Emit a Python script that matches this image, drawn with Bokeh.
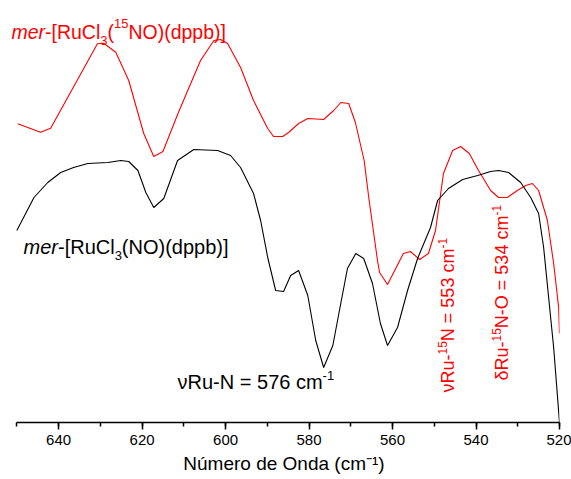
import math
from bokeh.plotting import figure
from bokeh.models import Range1d, SingleIntervalTicker, Label
from bokeh.embed import file_html
from bokeh.resources import INLINE

# ---- data (wavenumber cm^-1, relative transmittance, arbitrary units) ----
red_wn = [649.8, 644.3, 641.9, 630.7, 629.2, 626.3, 623.2, 619.6, 617.2, 615.0,
          611.4, 606.0, 602.8, 601.2, 599.5, 596.4, 593.3, 589.9, 588.5, 586.3,
          584.9, 582.5, 580.3, 576.5, 574.1, 572.4, 570.5, 568.9, 566.8, 565.6,
          563.6, 563.1, 561.2, 557.4, 555.7, 553.5, 551.4, 549.7, 547.8, 545.6,
          543.7, 541.6, 539.4, 536.5, 534.6, 532.5, 530.1, 528.1, 526.5, 525.0,
          522.9, 521.4, 520.2, 520.0]
red_t = [298.7, 290.3, 294.3, 378.7, 379.3, 370.3, 342, 289, 266, 271,
         309, 362, 382, 383, 379, 355, 322, 294, 286, 286,
         290, 299, 304, 303, 312, 320, 319, 300, 262, 222,
         162, 150, 138, 169, 171, 163, 169, 192, 249, 272,
         276, 269, 252, 232, 225, 225, 232, 237, 239, 232,
         202, 159, 115, 89]

black_wn = [650.0, 645.9, 642.6, 639.5, 636.4, 633.0, 628.2, 625.1, 623.2, 621.0,
            619.1, 617.2, 614.8, 611.5, 607.6, 601.9, 598.8, 596.4, 593.3, 591.6,
            589.9, 588.0, 586.1, 584.4, 582.5, 580.3, 578.4, 576.5, 574.3, 572.4,
            570.8, 568.8, 566.9, 564.8, 562.9, 561.2, 558.8, 556.4, 554.0, 550.9,
            549.2, 546.6, 543.2, 539.6, 536.5, 534.6, 532.2, 529.3, 526.9, 525.0,
            523.8, 522.6, 521.4, 520.0]
black_t = [192, 225, 240, 250, 255, 259, 260, 262, 261, 252,
           230, 215, 224, 262, 273, 272, 267, 255, 229, 202,
           165, 132, 131, 147, 152, 127, 82, 55, 77, 119,
           154, 169, 164, 139, 99, 77, 95, 132, 164, 195,
           222, 234, 243, 247, 251, 252, 250, 240, 225, 209,
           175, 125, 75, 0]

axis_start, axis_end = 650, 520
tick_interval = 20
x_title = "Número de Onda (cm⁻¹)"

FONT = "Liberation Sans"
RED = "#ff0000"

# Arial / Liberation Sans advance widths (per 1000 em)
W = {' ': 278, '(': 333, ')': 333, '-': 333, '=': 584, '[': 278, ']': 278,
     'C': 722, 'N': 722, 'O': 778, 'R': 722, 'b': 556, 'c': 500, 'd': 556,
     'e': 556, 'l': 222, 'm': 833, 'p': 556, 'r': 333, 'u': 556,
     'ν': 500, 'δ': 556}
for dch in "0123456789":
    W[dch] = 556


def text_width(s, size):
    return sum(W.get(ch, 556) for ch in s) * size / 1000.0


def place(p, x, y, parts, color, angle=0.0):
    cum = 0.0
    ca, sa = math.cos(angle), math.sin(angle)
    for txt, size, rise, italic in parts:
        r = rise + 0.35 * size  # baseline correction
        dx = cum * ca - r * sa
        dy = cum * sa + r * ca
        p.add_layout(Label(x=x, y=y, x_offset=dx, y_offset=dy, angle=angle,
                           text=txt, text_font=FONT, text_font_size=f"{size}px",
                           text_font_style="italic" if italic else "normal",
                           text_color=color, text_align="left",
                           text_baseline="alphabetic", text_line_height=1.0))
        cum += text_width(txt, size)


p = figure(width=571, height=479, output_backend="svg", toolbar_location=None,
           x_range=Range1d(652, 520), y_range=Range1d(0, 422),
           y_axis_location=None, min_border_left=8, min_border_right=12,
           min_border_top=0, min_border_bottom=57)
p.outline_line_color = None
p.grid.grid_line_color = None
p.background_fill_color = "white"
p.border_fill_color = "white"

p.line(red_wn, red_t, line_color=RED, line_width=1.1)
p.line(black_wn, black_t, line_color="black", line_width=1.1)

ax = p.xaxis[0]
ax.bounds = (axis_end, axis_start)
ax.ticker = SingleIntervalTicker(interval=tick_interval, num_minor_ticks=2)
ax.axis_label = x_title
ax.axis_label_text_font = FONT
ax.axis_label_text_font_size = "19px"
ax.axis_label_text_font_style = "normal"
ax.axis_label_text_color = "black"
ax.axis_label_standoff = 5
ax.major_label_text_font = FONT
ax.major_label_text_font_size = "15px"
ax.major_label_text_color = "black"
ax.major_label_standoff = 5
ax.axis_line_width = 1.5
ax.major_tick_line_width = 1.5
ax.minor_tick_line_width = 1.5
ax.major_tick_out = 7
ax.major_tick_in = 0
ax.minor_tick_out = 4
ax.minor_tick_in = 0

# red compound label (top left)
place(p, 651.3, 384, [("mer", 19.5, 0, True), ("-[RuCl", 19.5, 0, False),
                      ("3", 13, -7, False), ("(", 19.5, 0, False),
                      ("15", 13, 10, False), ("NO)(dppb)]", 19.5, 0, False)], RED)
# black compound label
place(p, 648.4, 169, [("mer", 20, 0, True), ("-[RuCl", 20, 0, False),
                      ("3", 13, -7, False), ("(NO)(dppb)]", 20, 0, False)], "black")
# nu Ru-N annotation
place(p, 611.5, 34, [("νRu-N = 576 cm", 20, 0, False), ("-1", 13, 8, False)], "black")
# rotated red annotations
place(p, 545.1, 30, [("νRu-", 18, 0, False), ("15", 12, 8, False),
                     ("N = 553 cm", 18, 0, False), ("-1", 12, 8, False)], RED,
      angle=math.pi / 2)
place(p, 532.2, 42, [("δRu-", 18, 0, False), ("15", 12, 8, False),
                     ("N-O = 534 cm", 18, 0, False), ("-1", 12, 8, False)], RED,
      angle=math.pi / 2)

open("out.html", "w").write(file_html(p, INLINE))
